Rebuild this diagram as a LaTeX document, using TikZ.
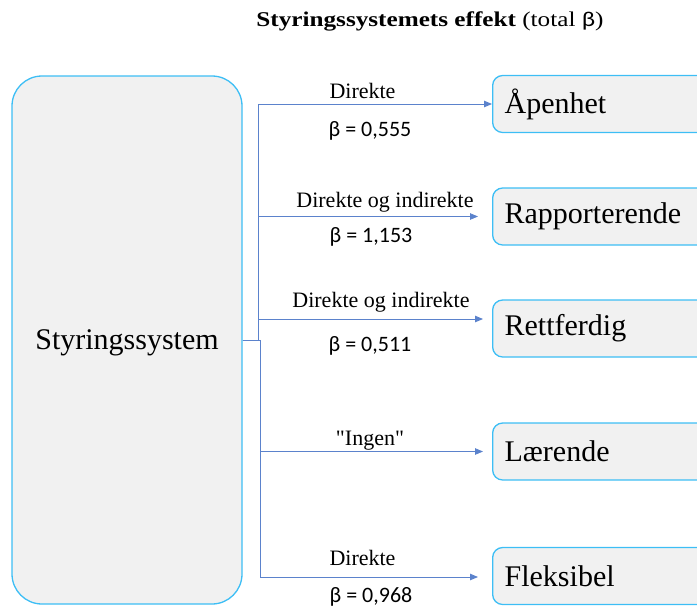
\documentclass[tikz,border=0pt]{standalone}
\usepackage{fontspec}
\setmainfont{Liberation Serif}
\newfontfamily\calib{Carlito}
% same serif without the TeX ligature mapping, so " stays a straight quote
\newfontfamily\rawserif{Liberation Serif}
\usetikzlibrary{arrows.meta}
\definecolor{boxfill}{HTML}{F1F1F1}
\definecolor{boxline}{HTML}{3DBEF5}
\definecolor{linkblue}{HTML}{5B82CC}
\begin{document}
\begin{tikzpicture}[x=1pt,y=-1pt,
  bigbox/.style={draw=boxline, fill=boxfill, line width=1.3pt, rounded corners=30pt,
    minimum width=230pt, minimum height=528pt, inner sep=0pt, text depth=0pt,
    font=\fontsize{30}{36}\selectfont},
  outbox/.style={draw=boxline, fill=boxfill, line width=1.3pt, rounded corners=10pt,
    minimum height=57pt, text width=200pt, inner xsep=12pt, align=left, anchor=west,
    font=\fontsize{30}{36}\selectfont},
  lbl/.style={font=\fontsize{22}{26}\selectfont, inner sep=0pt, anchor=base},
  betalbl/.style={font=\calib\fontsize{22}{26}\selectfont, inner sep=0pt, anchor=base},
  link/.style={draw=linkblue, line width=0.9pt, -{Triangle[length=8pt,width=6.5pt]}}
]
\path[use as bounding box] (0,0) rectangle (697,606);
\clip (0,0) rectangle (697,606);

% title
\node[inner sep=0pt, anchor=base, xscale=1.2, font=\fontsize{21}{25}\selectfont] (title) at (430,26)
  {\textbf{Styringssystemets effekt} (total {\calib β})};

% source box
\node[bigbox] (sys) at (127,340) {Styringssystem};

% outcome boxes
\node[outbox] (apen) at (492,104) {Åpenhet};
\node[outbox] (rapp) at (492,216.5) {Rapporterende};
\node[outbox] (rett) at (492,328.5) {Rettferdig};
\node[outbox] (laer) at (492,451.5) {Lærende};
\node[outbox] (flek) at (492,576) {Fleksibel};

% elbow connectors
\draw[link] (sys.east) -- ++(16,0) |- (apen.west);
\draw[link, shorten >=14pt] (sys.east) -- ++(16,0) |- (rapp.west);
\draw[link, shorten >=9pt] (sys.east) -- ++(16,0) |- ([yshift=9.5pt]rett.west);
\draw[link, shorten >=9pt] (sys.east) -- ++(18,0) |- (laer.west);
\draw[link, shorten >=14pt] (sys.east) -- ++(18,0) |- ([yshift=-1pt]flek.west);

% connector labels
\node[lbl] (l1) at (362.5,98) {Direkte};
\node[betalbl] (b1) at (370,136) {β = 0,555};
\node[lbl] (l2) at (385,207) {Direkte og indirekte};
\node[betalbl] (b2) at (371,242) {β = 1,153};
\node[lbl] (l3) at (381,307) {Direkte og indirekte};
\node[betalbl] (b3) at (370,351) {β = 0,511};
\node[lbl] (l4) at (370,445) {\rawserif"Ingen"};
\node[lbl] (l5) at (362.5,565) {Direkte};
\node[betalbl] (b5) at (371,602) {β = 0,968};
\end{tikzpicture}
\end{document}
